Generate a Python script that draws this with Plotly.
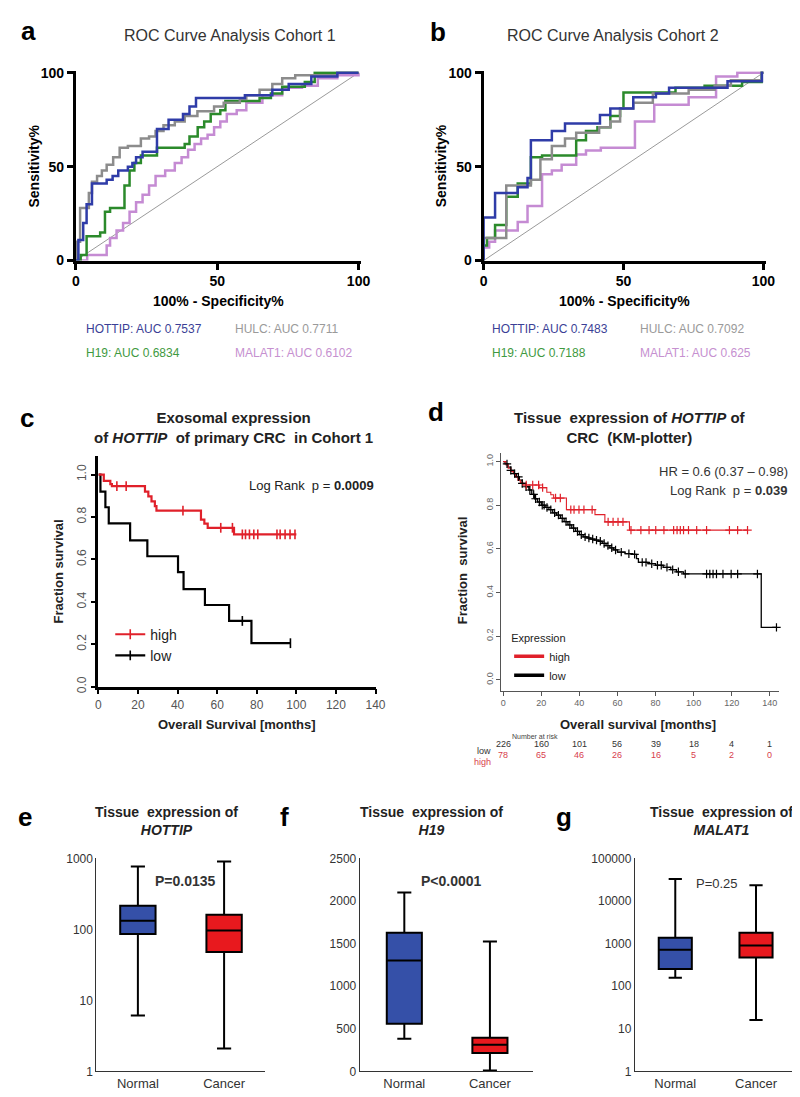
import plotly.graph_objects as go

W, H = 800, 1097
FONT = "Arial, 'Liberation Sans', sans-serif"

# ---------------- ROC data (100% - specificity, sensitivity) ----------------
c1_hottip_fpr = [0, 0.9, 2.6, 3.8, 5.7, 10.9, 13, 15, 18.4, 20, 21.3, 23.6, 28.7, 32.8, 37.9, 40.2, 42.5, 59.8, 69.5, 75.3, 83.3, 92.5, 100]
c1_hottip_sens = [0, 11, 20, 30, 41, 43, 45, 48, 50, 52, 55, 58, 70, 75, 78, 82, 86.5, 88, 91, 94, 98, 100, 100]
c1_hulc_fpr = [0, 0.5, 1.5, 4.6, 5.7, 7.5, 9.2, 10.9, 13.2, 15.5, 18.4, 23, 25.9, 28.2, 31, 35, 38.5, 43, 48.9, 52.3, 58, 60.3, 65, 69.5, 73, 77.6, 92.5, 100]
c1_hulc_sens = [0, 10, 28, 36, 42, 45, 48, 51, 55, 60, 61, 65, 66, 69, 72, 74, 77, 79.5, 82, 84, 86, 88, 91, 94, 97, 98.6, 100, 100]
c1_h19_fpr = [0, 1.7, 3.8, 8.6, 10.3, 12.1, 17.2, 19, 20.7, 23, 28.7, 38.5, 40.2, 43.1, 45.4, 47.7, 51.1, 52.9, 65, 69, 73, 81, 84.5, 100]
c1_h19_sens = [0, 3, 13, 15, 26, 28, 40, 48, 52, 56, 60, 62, 66, 71, 74, 78, 80, 85, 86.5, 89, 92.5, 95, 100, 100]
c1_malat1_fpr = [0, 4, 10.9, 12.1, 14.4, 16.7, 19, 21.3, 23.6, 25.9, 28.2, 31.6, 35, 37.4, 39.7, 42, 44.3, 46.6, 48.9, 51.1, 53.4, 56.9, 60.3, 66, 73, 80, 85.6, 92.5, 100]
c1_malat1_sens = [0, 3, 8, 12, 16, 20, 26, 31, 35, 40, 45, 48, 52, 55, 59, 62, 65, 67, 71, 74, 78, 80, 84, 88, 92, 93, 97, 98.6, 100]

c2_hottip_fpr = [0, 0, 4.1, 12.2, 15.7, 16.9, 24.4, 29.1, 41.6, 45.3, 53.5, 61.6, 66.3, 87.2, 99.5, 100]
c2_hottip_sens = [0, 23, 36, 39, 44, 64, 69, 73, 77.5, 81, 87, 89, 92, 95.5, 100, 100]
c2_hulc_fpr = [0, 0, 8.1, 16.9, 20.3, 24.4, 29.1, 33.1, 41.3, 45.3, 48.8, 53.5, 60.5, 73.3, 82.6, 88.4, 99.4, 100]
c2_hulc_sens = [0, 12, 40, 43, 54, 61, 65, 68, 71, 74, 81, 84, 89, 91, 93, 96, 100, 100]
c2_h19_fpr = [0, 0, 1.2, 4.1, 8.1, 12.2, 16.9, 20.9, 33.1, 36.6, 40.7, 45.3, 48.8, 50, 68.6, 79, 92.4, 99.4, 100]
c2_h19_sens = [0, 8, 12, 19, 34, 41, 55, 56, 64, 69, 71, 77, 81, 89.5, 92, 93, 95, 100, 100]
c2_malat1_fpr = [0, 0, 2, 4.1, 12.2, 15.7, 20.9, 24.4, 27.9, 33.1, 36.6, 41.9, 54.1, 61, 73.3, 83.1, 90.7, 100]
c2_malat1_sens = [0, 7, 10, 16, 20.5, 29, 46, 48, 51, 56.5, 58.6, 60, 74, 83, 87, 98, 100, 100]

chance_line = [0, 100]
roc_ticks = [0, 50, 100]

auc_c1 = {"HOTTIP": "0.7537", "HULC": "0.7711", "H19": "0.6834", "MALAT1": "0.6102"}
auc_c2 = {"HOTTIP": "0.7483", "HULC": "0.7092", "H19": "0.7188", "MALAT1": "0.625"}

# ---------------- Kaplan-Meier, panel c (months, fraction surviving) ----------------
km1_high_t = [0, 2.7, 6, 6.8, 23.5, 25.2, 26.8, 28.5, 29.3, 51.8, 53.5, 55.2, 68.5, 100]
km1_high_s = [1.0, 0.97, 0.955, 0.945, 0.92, 0.897, 0.874, 0.851, 0.83, 0.788, 0.769, 0.749, 0.718, 0.718]
km1_high_cens_t = [9.3, 14, 42.7, 61.8, 67.7, 72.7, 74.3, 76.3, 78.5, 80.5, 90.2, 91.8, 94.3, 96.8, 99.3]
km1_high_cens_s = [0.945, 0.945, 0.83, 0.749, 0.749, 0.718, 0.718, 0.718, 0.718, 0.718, 0.718, 0.718, 0.718, 0.718, 0.718]
km1_low_t = [0, 1, 3.5, 5.2, 16, 24.7, 40.2, 43, 53.8, 66, 77.3, 97]
km1_low_s = [1.0, 0.92, 0.846, 0.77, 0.69, 0.615, 0.54, 0.46, 0.385, 0.31, 0.205, 0.205]
km1_low_cens_t = [72.7, 97]
km1_low_cens_s = [0.31, 0.205]

# ---------------- Kaplan-Meier, panel d (KM-plotter) ----------------
km2_high_t = [0, 1.5, 2.6, 4, 5.2, 6.5, 7.7, 9, 10.3, 18.9, 22.9, 25, 26.5, 33.2, 48.2, 53.4, 66.3, 128.3]
km2_high_s = [1.0, 0.985, 0.97, 0.955, 0.946, 0.93, 0.915, 0.905, 0.893, 0.881, 0.86, 0.848, 0.833, 0.78, 0.757, 0.724, 0.686, 0.686]
km2_high_cens_t = [12.1, 15.5, 18.6, 20.7, 27.5, 30, 35.5, 37.2, 39.8, 42.4, 46.7, 55.1, 57.7, 60.3, 62.9, 67.1, 72.3,
                   76.6, 80.1, 84.4, 89.5, 91.3, 93, 94.7, 97.3, 101.6, 106.8, 118.8, 123.1, 128.3]
km2_high_cens_s = [0.893, 0.893, 0.893, 0.881, 0.833, 0.833, 0.78, 0.78, 0.78, 0.78, 0.78, 0.724, 0.724, 0.724, 0.724,
                   0.686, 0.686, 0.686, 0.686, 0.686, 0.686, 0.686, 0.686, 0.686, 0.686, 0.686, 0.686, 0.686, 0.686, 0.686]
km2_low_t = [0, 1, 2.5, 4, 5.5, 7, 8.5, 10, 12, 13.5, 15, 16.5, 18, 20, 22, 24, 26, 28, 30, 32, 34, 36, 38, 40, 42, 44,
             46, 48, 50, 52, 54, 56, 58, 60, 64, 68, 70, 71, 76, 80, 84, 88, 91, 94.7, 135.5, 143.5]
km2_low_s = [1.0, 0.99, 0.975, 0.96, 0.945, 0.93, 0.915, 0.9, 0.885, 0.87, 0.85, 0.83, 0.815, 0.8, 0.79, 0.78, 0.765,
             0.755, 0.74, 0.725, 0.71, 0.695, 0.68, 0.665, 0.655, 0.65, 0.645, 0.64, 0.635, 0.625, 0.615, 0.605, 0.595,
             0.585, 0.578, 0.575, 0.555, 0.538, 0.532, 0.525, 0.515, 0.505, 0.495, 0.485, 0.24, 0.24]
km2_low_cens_t = [2, 4, 6, 8, 10, 12, 14, 16, 17, 19, 20.5, 21.5, 23, 25, 27, 29, 31, 33, 35, 37, 39, 41, 43, 45, 47, 49,
                  51, 53, 55, 57, 59, 62, 66, 69, 73, 75, 78, 81, 83, 86, 89, 92, 95.6, 106.8, 108.5, 110.2, 112, 115.4,
                  119.7, 123.1, 133.5, 143.5]
km2_low_cens_s = [0.99, 0.96, 0.945, 0.93, 0.9, 0.885, 0.87, 0.85, 0.83, 0.815, 0.8, 0.8, 0.79, 0.78, 0.765, 0.755, 0.74,
                  0.725, 0.71, 0.695, 0.68, 0.665, 0.655, 0.65, 0.645, 0.64, 0.635, 0.625, 0.615, 0.605, 0.595, 0.585,
                  0.578, 0.575, 0.538, 0.538, 0.532, 0.525, 0.525, 0.515, 0.505, 0.495, 0.485, 0.485, 0.485, 0.485,
                  0.485, 0.485, 0.485, 0.485, 0.485, 0.24]
risk_months = [0, 20, 40, 60, 80, 100, 120, 140]
risk_low = [226, 160, 101, 56, 39, 18, 4, 1]
risk_high = [78, 65, 46, 26, 16, 5, 2, 0]

# ---------------- Box plots (tissue expression) ----------------
groups = ["Normal", "Cancer"]
hottip_stats = {"q1": [86, 48], "median": [132, 96], "q3": [214, 160], "low": [6.1, 2.1], "high": [767, 900]}
h19_stats = {"q1": [559, 215], "median": [1300, 312], "q3": [1627, 395], "low": [383, 10], "high": [2098, 1523]}
malat1_stats = {"q1": [252, 468], "median": [718, 903], "q3": [1362, 1780], "low": [158, 16], "high": [32600, 23300]}
log3_ticks = [1, 10, 100, 1000]
lin_ticks = [0, 500, 1000, 1500, 2000, 2500]
log5_ticks = [1, 10, 100, 1000, 10000, 100000]

BLUE_LINE = "#2f3ca8"
GREY_LINE = "#8c8c8c"
GREEN_LINE = "#2b8a2b"
PINK_LINE = "#c58bd3"
KM_RED = "#e0202a"
BOX_BLUE = "#3550a8"
BOX_RED = "#e8191e"


def px(x):
    return x / W


def py(y):
    return 1 - y / H


fig = go.Figure()


def add_line(x, y, ax, color, width, shape="hv"):
    fig.add_trace(go.Scatter(x=x, y=y, mode="lines", line=dict(color=color, width=width, shape=shape),
                             xaxis="x" + ax, yaxis="y" + ax, showlegend=False, hoverinfo="skip"))


def add_cens(x, y, ax, color, symbol, size, lw):
    fig.add_trace(go.Scatter(x=x, y=y, mode="markers", cliponaxis=False,
                             marker=dict(symbol=symbol, size=size, color=color, line=dict(color=color, width=lw)),
                             xaxis="x" + ax, yaxis="y" + ax, showlegend=False, hoverinfo="skip"))


# panel a / b ROC
for ax, curves in [("", [(c1_malat1_fpr, c1_malat1_sens, PINK_LINE), (c1_h19_fpr, c1_h19_sens, GREEN_LINE),
                         (c1_hulc_fpr, c1_hulc_sens, GREY_LINE), (c1_hottip_fpr, c1_hottip_sens, BLUE_LINE)]),
                   ("2", [(c2_malat1_fpr, c2_malat1_sens, PINK_LINE), (c2_h19_fpr, c2_h19_sens, GREEN_LINE),
                          (c2_hulc_fpr, c2_hulc_sens, GREY_LINE), (c2_hottip_fpr, c2_hottip_sens, BLUE_LINE)])]:
    add_line(chance_line, chance_line, ax, "#9a9a9a", 1, shape="linear")
    for xs, ys, col in curves:
        add_line(xs, ys, ax, col, 2.5)

# panel c
add_line(km1_low_t, km1_low_s, "3", "black", 2.2)
add_line(km1_high_t, km1_high_s, "3", KM_RED, 2.2)
add_cens(km1_low_cens_t, km1_low_cens_s, "3", "black", "line-ns-open", 7, 1.6)
add_cens(km1_high_cens_t, km1_high_cens_s, "3", KM_RED, "line-ns-open", 7, 1.6)
for name, col in [("high", KM_RED), ("low", "black")]:
    fig.add_trace(go.Scatter(x=[None], y=[None], mode="lines+markers", name=name, legend="legend",
                             line=dict(color=col, width=2.2),
                             marker=dict(symbol="line-ns-open", size=7, line=dict(color=col, width=1.6)),
                             xaxis="x3", yaxis="y3"))

# panel d
add_line(km2_low_t, km2_low_s, "4", "black", 1.3)
add_line(km2_high_t, km2_high_s, "4", KM_RED, 1.1)
add_cens(km2_low_cens_t, km2_low_cens_s, "4", "black", "cross-thin-open", 6, 1.2)
add_cens(km2_high_cens_t, km2_high_cens_s, "4", KM_RED, "cross-thin-open", 6, 1.2)
for name, col in [("high", KM_RED), ("low", "black")]:
    fig.add_trace(go.Scatter(x=[None], y=[None], mode="lines", name=name, legend="legend2",
                             line=dict(color=col, width=3.5), xaxis="x4", yaxis="y4"))

# panels e, f, g
for ax, stats in [("5", hottip_stats), ("6", h19_stats), ("7", malat1_stats)]:
    for i, (g, col) in enumerate(zip(groups, [BOX_BLUE, BOX_RED])):
        fig.add_trace(go.Box(x=[g], q1=[stats["q1"][i]], median=[stats["median"][i]], q3=[stats["q3"][i]],
                             lowerfence=[stats["low"][i]], upperfence=[stats["high"][i]],
                             fillcolor=col, line=dict(color="black", width=2), width=0.41, whiskerwidth=0.4,
                             boxpoints=False, xaxis="x" + ax, yaxis="y" + ax, showlegend=False, hoverinfo="skip"))

# ---------------- axes ----------------
roc_y_dom = [py(249), py(57)]
roc_common = dict(range=[0, 100.8], showline=True, linewidth=3, linecolor="black", ticks="outside", ticklen=6,
                  tickwidth=3, tickcolor="black", tickvals=roc_ticks, showgrid=False, zeroline=False,
                  tickfont=dict(family=FONT, size=14, color="black", weight="bold"))
km_c = dict(showline=True, linewidth=2.5, linecolor="black", ticks="outside", ticklen=5, tickwidth=2,
            tickcolor="black", showgrid=False, zeroline=False, tickfont=dict(family=FONT, size=12, color="#555"))
km_d = dict(showline=True, linewidth=1, linecolor="#555", ticks="outside", ticklen=4, tickwidth=1,
            tickcolor="#555", showgrid=False, zeroline=False, tickfont=dict(family=FONT, size=9, color="#666"))
box_x = dict(type="category", showline=True, linewidth=1.3, linecolor="#333", ticks="", showgrid=False,
             zeroline=False, tickfont=dict(family=FONT, size=13, color="#333"))
box_y = dict(showline=True, linewidth=1.3, linecolor="#333", ticks="", showgrid=False, zeroline=False,
             tickfont=dict(family=FONT, size=12, color="#333"))
box_y_dom = [py(1071), py(855)]

fig.update_layout(
    width=W, height=H, margin=dict(l=0, r=0, t=0, b=0), paper_bgcolor="white", plot_bgcolor="white",
    font=dict(family=FONT), showlegend=True,
    xaxis=dict(domain=[px(65), px(355)], anchor="y", **roc_common),
    yaxis=dict(domain=roc_y_dom, anchor="x", **roc_common),
    xaxis2=dict(domain=[px(480), px(767)], anchor="y2", **roc_common),
    yaxis2=dict(domain=roc_y_dom, anchor="x2", **roc_common),
    xaxis3=dict(domain=[px(88), px(370)], anchor="y3", range=[0, 140], dtick=20, **km_c),
    yaxis3=dict(domain=[py(681), py(447)], anchor="x3", range=[0, 1.088], tickvals=[0, 0.2, 0.4, 0.6, 0.8, 1.0],
                tickformat=".1f", tickangle=-90, **km_c),
    xaxis4=dict(domain=[px(498), px(781)], anchor="y4", range=[-1, 145], tickvals=risk_months, **km_d),
    yaxis4=dict(domain=[py(685), py(444)], anchor="x4", range=[-0.05, 1.04], tickvals=[0, 0.2, 0.4, 0.6, 0.8, 1.0],
                tickformat=".1f", tickangle=-90, **km_d),
    xaxis5=dict(domain=[px(86), px(258)], anchor="y5", range=[-0.48, 1.48], **box_x),
    yaxis5=dict(domain=box_y_dom, anchor="x5", type="log", range=[0, 3], tickvals=log3_ticks,
                ticktext=[str(v) for v in log3_ticks], **box_y),
    xaxis6=dict(domain=[px(354), px(530)], anchor="y6", range=[-0.52, 1.5], **box_x),
    yaxis6=dict(domain=box_y_dom, anchor="x6", range=[0, 2500], tickvals=lin_ticks, **box_y),
    xaxis7=dict(domain=[px(634), px(800)], anchor="y7", range=[-0.5, 1.52], **box_x),
    yaxis7=dict(domain=box_y_dom, anchor="x7", type="log", range=[0, 5], tickvals=log5_ticks,
                ticktext=[str(v) for v in log5_ticks], **box_y),
    legend=dict(x=px(100), y=py(612), xanchor="left", yanchor="top", bgcolor="rgba(0,0,0,0)",
                font=dict(family=FONT, size=14, color="#222"), tracegroupgap=0, itemwidth=30),
    legend2=dict(x=px(506), y=py(621), xanchor="left", yanchor="top", bgcolor="rgba(0,0,0,0)",
                 title=dict(text="Expression", font=dict(family=FONT, size=11, color="#222")),
                 font=dict(family=FONT, size=11, color="#222"), tracegroupgap=0, itemwidth=30),
)


def note(text, x, y, size=12, color="#222", xanchor="center", angle=0):
    fig.add_annotation(text=text, x=px(x), y=py(y), xref="paper", yref="paper", showarrow=False,
                       xanchor=xanchor, yanchor="middle", textangle=angle,
                       font=dict(family=FONT, size=size, color=color))


# panel letters
for letter, lx, ly in [("a", 17, 16), ("b", 434, 17), ("c", 15, 409), ("d", 432, 403),
                       ("e", 13, 813), ("f", 277, 813), ("g", 562, 813)]:
    note("<b>%s</b>" % letter, lx, ly, size=26, color="black")

# ROC titles and axis labels
note("ROC Curve Analysis Cohort 1", 222, 21, size=16, color="#333")
note("ROC Curve Analysis Cohort 2", 612, 21, size=16, color="#333")
for cx in [210, 623]:
    note("<b>100% - Specificity%</b>", cx, 290, size=14, color="black")
for yx in [22, 437]:
    note("<b>Sensitivity%</b>", yx, 153, size=14, color="black", angle=-90)

# AUC legends
auc_colors = {"HOTTIP": "#3b3f96", "HULC": "#9a9a9a", "H19": "#3f9a3f", "MALAT1": "#c690d0"}
for auc, x_left, x_right in [(auc_c1, 73, 225), (auc_c2, 487, 637)]:
    for name, xx, yy in [("HOTTIP", x_left, 318), ("HULC", x_right, 318), ("H19", x_left, 343),
                         ("MALAT1", x_right, 343)]:
        note("%s: AUC %s" % (name, auc[name]), xx, yy, size=12, color=auc_colors[name], xanchor="left")

# panel c texts
note("<b>Exosomal expression<br>of <i>HOTTIP</i>  of primary CRC  in Cohort 1</b>", 225, 418, size=15, color="#222")
note("Log Rank  p = <b>0.0009</b>", 370, 477, size=13, color="#222", xanchor="right")
note("<b>Fraction survival</b>", 47, 564, size=13, color="#222", angle=-90)
note("<b>Overall Survival [months]</b>", 229, 719, size=13, color="#222")

# panel d texts
note("<b>Tissue  expression of <i>HOTTIP</i> of<br>CRC  (KM-plotter)</b>", 629, 418, size=15, color="#222")
note("HR = 0.6 (0.37 – 0.98)", 792, 463, size=13, color="#333", xanchor="right")
note("Log Rank  p = <b>0.039</b>", 791, 482, size=13, color="#333", xanchor="right")
note("<b>Fraction  survival</b>", 458, 563, size=13, color="#222", angle=-90)
note("<b>Overall survival [months]</b>", 637, 719, size=13, color="#222")
note("Number at risk", 532, 731, size=7, color="#444")
note("low", 490, 746, size=9, color="#333", xanchor="right")
note("high", 490, 757, size=9, color="#d8404c", xanchor="right")
for m, lo, hi in zip(risk_months, risk_low, risk_high):
    fig.add_annotation(text=str(lo), x=m, y=py(746), xref="x4", yref="paper", showarrow=False,
                       font=dict(family=FONT, size=9, color="#333"))
    fig.add_annotation(text=str(hi), x=m, y=py(757), xref="x4", yref="paper", showarrow=False,
                       font=dict(family=FONT, size=9, color="#d8404c"))

# box plot panels
note("<b>Tissue  expression of<br><i>HOTTIP</i></b>", 157, 817, size=14, color="#222")
note("<b>Tissue  expression of<br><i>H19</i></b>", 427, 817, size=14, color="#222")
note("<b>Tissue  expression of<br><i>MALAT1</i></b>", 722, 817, size=14, color="#222")
note("<b>P=0.0135</b>", 177, 878, size=14, color="#333")
note("<b>P&lt;0.0001</b>", 447, 878, size=14, color="#333")
note("P=0.25", 718, 881, size=13, color="#333")

fig.write_html("out.html")
